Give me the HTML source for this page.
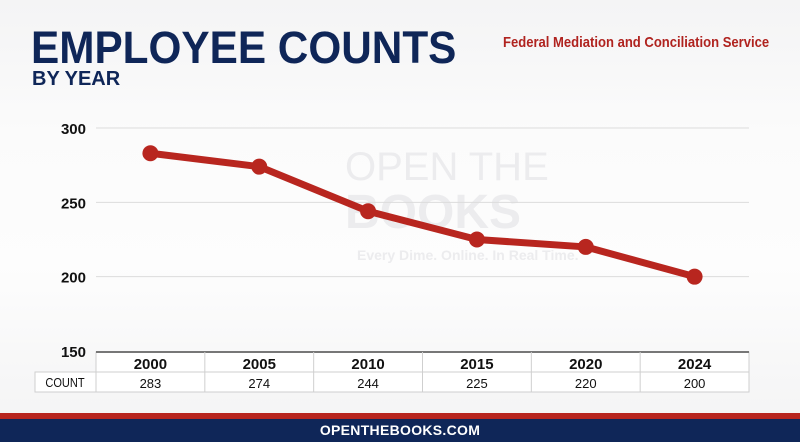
<!DOCTYPE html>
<html><head><meta charset="utf-8"><style>
body{margin:0;width:800px;height:442px;overflow:hidden;font-family:"Liberation Sans",sans-serif;}
#wrap{position:relative;width:800px;height:442px;background:linear-gradient(180deg,#f4f4f5 0%,#fbfbfb 30%,#fdfdfd 60%,#f3f3f4 100%);}
</style></head><body>
<div id="wrap">
<div style="position:absolute;left:31px;top:22px;font-size:45px;font-weight:900;color:#0f2658;white-space:nowrap;transform:scaleX(0.94);transform-origin:left;">EMPLOYEE COUNTS</div>
<div style="position:absolute;left:32px;top:68px;font-size:20px;font-weight:bold;color:#0f2658;white-space:nowrap;">BY YEAR</div>
<div style="position:absolute;left:503px;top:34px;font-size:15px;font-weight:bold;color:#b0231f;white-space:nowrap;transform:scaleX(0.87);transform-origin:left;">Federal Mediation and Conciliation Service</div>
<svg id="chart" width="800" height="442" style="position:absolute;left:0;top:0"></svg>
<div style="position:absolute;left:0;top:413px;width:800px;height:6px;background:#b8261f"></div>
<div style="position:absolute;left:0;top:419px;width:800px;height:23px;background:#0f2658;color:#fff;text-align:center;font-weight:900;font-size:14px;line-height:23px;letter-spacing:0.3px">OPENTHEBOOKS.COM</div>
</div>
<script>
const years=["2000","2005","2010","2015","2020","2024"];
const counts=[283,274,244,225,220,200];
const yTicks=[300,250,200,150];
const NS="http://www.w3.org/2000/svg";
const svg=document.getElementById('chart');
const x0=96,x1=749,yTop=128,yBot=351,vMin=150,vMax=300;
const colW=(x1-x0)/years.length;
function xs(i){return x0+colW*(i+0.5);}
function ys(v){return yBot-(v-vMin)/(vMax-vMin)*(yBot-yTop);}
function mk(t,a,p){const e=document.createElementNS(NS,t);for(const k in a)e.setAttribute(k,a[k]);(p||svg).appendChild(e);return e;}
const wm=mk('text',{x:345,y:180,'font-size':40,fill:'#ececee','font-family':'Liberation Sans, sans-serif'});wm.textContent='OPEN THE';


const wm2=mk('text',{x:345,y:228,'font-size':48,'font-weight':'bold',fill:'#ececee','font-family':'Liberation Sans, sans-serif'});wm2.textContent='BOOKS';


const wm3=mk('text',{x:357,y:260,'font-size':14,'font-weight':'bold',fill:'#ececee','font-family':'Liberation Sans, sans-serif'});wm3.textContent='Every Dime. Online. In Real Time.';


yTicks.forEach(v=>{
  const y=ys(v);
  if(v!==vMin){const l=mk('line',{x1:x0,x2:x1,y1:y,y2:y,stroke:'#dcdcdc','stroke-width':1});
  
  }
  const t=mk('text',{x:86,y:y+6,'text-anchor':'end','font-size':15,'font-weight':'bold',fill:'#111','font-family':'Liberation Sans, sans-serif'});
  t.textContent=v;
  
  
});
const tb=mk('rect',{x:x0,y:352,width:x1-x0,height:40,fill:'#fff',stroke:'#cfcfcf'});


const cc=mk('rect',{x:35,y:372,width:x0-35,height:20,fill:'#fff',stroke:'#cfcfcf'});


const axisLine=mk('line',{x1:x0,x2:x1,y1:352,y2:352,stroke:'#777','stroke-width':2});


mk('line',{x1:x0,x2:x1,y1:372,y2:372,stroke:'#cfcfcf'});
const cl=mk('text',{x:65,y:387,'text-anchor':'middle','font-size':13,fill:'#111','font-family':'Liberation Sans, sans-serif',transform:'translate(65 0) scale(0.85 1) translate(-65 0)'});
cl.textContent='COUNT';


years.forEach((yr,i)=>{
  if(i>0)mk('line',{x1:x0+colW*i,x2:x0+colW*i,y1:352,y2:392,stroke:'#cfcfcf'});
  const h=mk('text',{x:xs(i),y:369,'text-anchor':'middle','font-size':15,'font-weight':'bold',fill:'#111','font-family':'Liberation Sans, sans-serif'});
  h.textContent=yr;
  
  
  const c=mk('text',{x:xs(i),y:388,'text-anchor':'middle','font-size':13,fill:'#111','font-family':'Liberation Sans, sans-serif'});
  c.textContent=counts[i];
  
  
});
const pl=mk('polyline',{points:counts.map((v,i)=>xs(i)+','+ys(v)).join(' '),fill:'none',stroke:'#b8261f','stroke-width':7,'stroke-linejoin':'round'});


counts.forEach((v,i)=>{
  const c=mk('circle',{cx:xs(i),cy:ys(v),r:8,fill:'#b8261f'});
  
  
});
</script>
</body></html>
